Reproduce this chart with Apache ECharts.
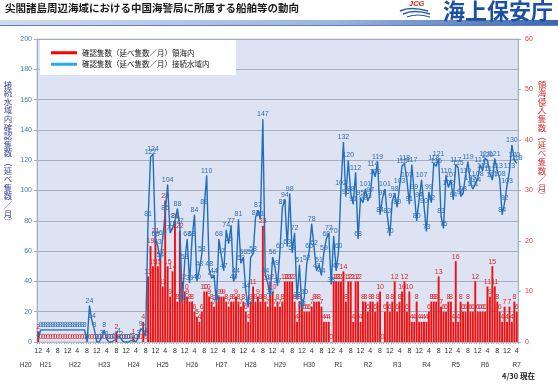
<!DOCTYPE html>
<html><head><meta charset="utf-8">
<script src="https://cdn.jsdelivr.net/npm/echarts@6/dist/echarts.min.js"></script>
<style>html,body{margin:0;padding:0;background:#fff}#c{width:558px;height:385px}</style>
</head><body><div id="c"></div>
<script>
// 領海内 確認隻数（延べ隻数／月） — right axis, by year (Dec 2008 .. Apr 2025)
const red2008=[2];
const red2009=[0,0,0,0,0,0,0,0,0,0,0,0];
const red2010=[0,0,0,0,0,0,0,0,0,0,0,0];
const red2011=[0,0,0,0,0,0,0,2,0,0,0,0];
const red2012=[0,0,1,0,0,0,4,0,13,19,15,21];
const red2013=[15,17,11,28,15,9,14,24,8,22,12,10];
const red2014=[9,8,8,6,5,4,6,10,10,9,8,7];
const red2015=[8,9,9,9,8,7,8,8,9,8,7,8];
const red2016=[6,4,8,11,8,9,8,23,8,7,12,10];
const red2017=[7,8,7,8,12,12,12,12,8,4,8,7];
const red2018=[6,6,6,7,8,8,8,7,4,4,4,0];
const red2019=[12,12,12,12,14,8,12,12,4,12,12,4];
const red2020=[8,8,6,8,8,6,8,10,0,6,8,6];
const red2021=[8,12,6,8,10,12,6,10,4,4,8,4];
const red2022=[4,4,4,6,8,8,8,13,7,6,6,8];
const red2023=[8,4,16,4,8,6,6,8,6,6,12,6];
const red2024=[6,6,6,11,9,15,11,8,6,4,7,4];
const red2025=[7,4,8,6];

// 接続水域内 確認隻数（延べ隻数／月） — left axis
const blue2008=[2];
const blue2009=[8,8,8,8,8,8,8,8,8,8,8,8];
const blue2010=[8,8,8,8,8,8,8,0,24,14,8,0];
const blue2011=[0,3,8,2,0,0,1,2,4,2,0,0];
const blue2012=[0,1,1,0,3,9,7,4,81,122,124,68];
const blue2013=[63,54,69,85,104,72,75,80,88,77,26,53];
const blue2014=[68,39,68,84,40,48,58,89,110,48,42,44];
const blue2015=[26,68,57,47,74,65,77,40,44,81,52,56];
const blue2016=[34,23,56,58,82,87,81,147,44,39,30,56];
const blue2017=[49,37,60,89,94,63,98,59,72,28,51,22];
const blue2018=[30,52,60,78,62,47,51,44,59,68,72,38];
const blue2019=[70,47,60,102,132,96,120,98,91,112,68,95];
const blue2020=[92,101,93,97,114,109,119,84,95,101,83,70];
const blue2021=[93,98,89,103,116,118,107,91,117,99,80,94];
const blue2022=[107,90,73,99,92,118,116,121,83,75,110,102];
const blue2023=[107,94,117,115,96,98,110,119,105,101,104,108];
const blue2024=[117,113,121,120,111,107,121,113,108,84,92,103];
const blue2025=[113,130,120,118];

const yearLabels=['H20','H21','H22','H23','H24','H25','H26','H27','H28','H29','H30','R1','R2','R3','R4','R5','R6','R7'];
const startYear=2008, startMonth=12;

const redVals=[].concat(red2008,red2009,red2010,red2011,red2012,red2013,red2014,red2015,red2016,red2017,red2018,red2019,red2020,red2021,red2022,red2023,red2024,red2025);
const blueVals=[].concat(blue2008,blue2009,blue2010,blue2011,blue2012,blue2013,blue2014,blue2015,blue2016,blue2017,blue2018,blue2019,blue2020,blue2021,blue2022,blue2023,blue2024,blue2025);

const cats=[], months=[];
for(let i=0;i<redVals.length;i++){
  const m0=startMonth-1+i;
  const y=startYear+Math.floor(m0/12), m=(m0%12)+1;
  cats.push(y+'-'+m); months.push(m);
}
const last=cats.length-1;
const yearAt={};
yearAt[0]=0;
for(let k=1;k<yearLabels.length;k++){
  let idx=3+12*(k-1); if(k===yearLabels.length-1) idx=last;
  yearAt[idx]=k;
}

const FONT='"Liberation Sans", "Noto Sans CJK JP", sans-serif';
const JP='"Noto Sans CJK JP", sans-serif';
const nameRed='確認隻数（延べ隻数／月）領海内';
const nameBlue='確認隻数（延べ隻数／月）接続水域内';
const vert=s=>s.split('').join('\n');

const chart=echarts.init(document.getElementById('c'),null,{renderer:'canvas'});
chart.setOption({
  animation:false,
  backgroundColor:'#ffffff',
  textStyle:{fontFamily:FONT},
  grid:{left:37,right:40,top:39,bottom:43,show:true,backgroundColor:'#dde3f2',borderColor:'#c2cad8',borderWidth:1},
  legend:{
    orient:'vertical',left:46,top:44,itemWidth:26,itemHeight:3,itemGap:4,icon:'rect',z:10,
    textStyle:{fontSize:7.5,color:'#222',fontFamily:JP},
    data:[{name:nameRed,itemStyle:{color:'#ff0000'}},{name:nameBlue,itemStyle:{color:'#1cb0ec'}}]
  },
  xAxis:[{
    type:'category',data:cats,boundaryGap:true,
    axisLine:{show:true,lineStyle:{color:'#b4bccb'}},
    axisTick:{show:true,interval:0,length:2,lineStyle:{color:'#a8b0c0'}},
    axisLabel:{interval:3,margin:6,fontSize:7,color:'#333',formatter:(v,i)=>String(months[i])},
    splitLine:{show:false}
  },{
    type:'category',data:cats,boundaryGap:true,position:'bottom',
    axisLine:{show:false},axisTick:{show:false},splitLine:{show:false},
    axisLabel:{interval:0,margin:20,fontSize:6.5,color:'#333',
      formatter:(v,i)=> (i in yearAt) ? (i===0?'{h|'+yearLabels[0]+'}':yearLabels[yearAt[i]]) : '',
      rich:{h:{fontSize:6.5,color:'#333',padding:[0,25,0,0]}}}
  }],
  yAxis:[{
    type:'value',min:0,max:200,interval:20,position:'left',
    axisLine:{show:true,lineStyle:{color:'#9eb0c8'}},
    axisTick:{show:true,length:3,lineStyle:{color:'#9eb0c8'}},
    axisLabel:{fontSize:7,color:'#3b7bb0',margin:5},
    splitLine:{show:true,lineStyle:{color:'#a6aebe',width:1}}
  },{
    type:'value',min:0,max:60,interval:10,position:'right',
    axisLine:{show:true,lineStyle:{color:'#9eb0c8'}},
    axisTick:{show:true,length:3,lineStyle:{color:'#9eb0c8'}},
    axisLabel:{fontSize:7,color:'#e03a3a',margin:7},
    splitLine:{show:false}
  }],
  series:[{
    name:nameRed,type:'bar',xAxisIndex:0,yAxisIndex:1,data:redVals,
    barCategoryGap:'22%',itemStyle:{color:'#ee1111'},
    label:{show:true,position:'top',distance:1,fontSize:7,color:'#e22424'},
    z:2
  },{
    name:nameBlue,type:'line',xAxisIndex:0,yAxisIndex:0,data:blueVals,
    showSymbol:true,showAllSymbol:true,symbol:'circle',symbolSize:0.5,
    itemStyle:{color:'#1f6fbe'},lineStyle:{color:'#1f6fbe',width:1.4},
    label:{show:true,position:'top',distance:1,fontSize:7,color:'#2a6fb6'},
    z:3
  }],
  graphic:[
    {type:'text',left:5,top:3,style:{text:'尖閣諸島周辺海域における中国海警局に所属する船舶等の動向',fontSize:10.5,fontWeight:'bold',fill:'#1a1a1a',fontFamily:JP}},
    {type:'rect',shape:{x:0,y:20,width:558,height:6},style:{fill:new echarts.graphic.LinearGradient(0,0,1,0,[{offset:0,color:'#cfdcee'},{offset:0.6,color:'#9db5da'},{offset:1,color:'#3a68b2'}])}},
    {type:'rect',shape:{x:0,y:25,width:558,height:1},style:{fill:'#5b80bd'}},
    {type:'text',left:409,top:0,style:{text:'JCG',fontSize:7.5,fontWeight:'bold',fontStyle:'italic',fill:'#e02020',fontFamily:FONT}},
    {type:'bezierCurve',shape:{x1:400,y1:11,cpx1:410,cpy1:6,x2:428,y2:11},style:{stroke:'#2458a8',lineWidth:1.6,fill:null}},
    {type:'bezierCurve',shape:{x1:403,y1:14,cpx1:414,cpy1:9,x2:430,y2:14},style:{stroke:'#2458a8',lineWidth:1.4,fill:null}},
    {type:'bezierCurve',shape:{x1:407,y1:17,cpx1:417,cpy1:13,x2:430,y2:17},style:{stroke:'#2458a8',lineWidth:1.2,fill:null}},
    {type:'text',right:5,top:0,style:{text:'海上保安庁',fontSize:22,fontWeight:'bold',fill:'#1c4fa5',fontFamily:JP}},
    {type:'rect',z:5,shape:{x:40,y:40,width:196,height:35},style:{fill:'#ffffff'}},
    {type:'text',x:8,y:80,style:{text:vert('接続水域内確認隻数︵延べ隻数／月︶'),fontSize:8.5,lineHeight:8.6,align:'center',fill:'#3b47a2',fontFamily:JP}},
    {type:'text',x:542,y:80,style:{text:vert('領海侵入隻数︵延べ隻数／月︶'),fontSize:8.5,lineHeight:8.6,align:'center',fill:'#d42c2c',fontFamily:JP}},
    {type:'text',left:502,top:372,style:{text:'4/30 現在',fontSize:7.5,fontWeight:'bold',fill:'#222',fontFamily:JP}}
  ]
});
</script>
</body></html>
